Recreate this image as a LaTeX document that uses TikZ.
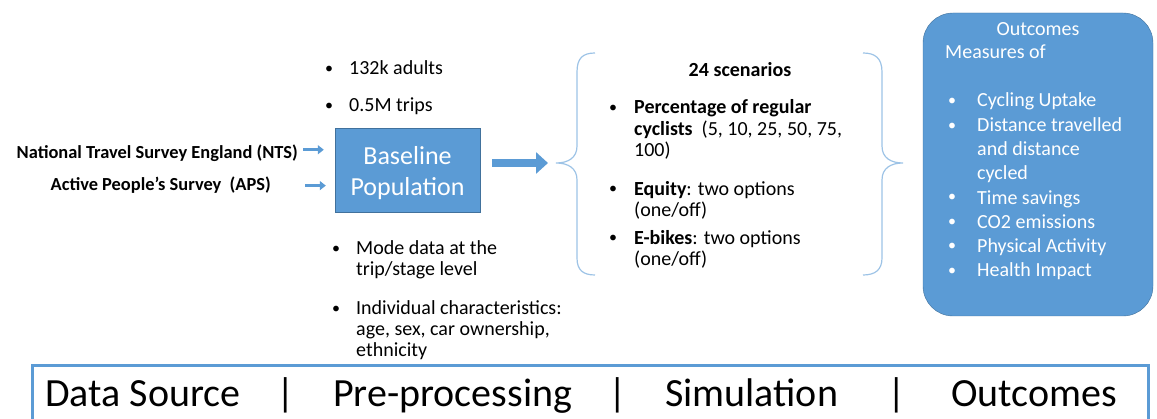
\documentclass[tikz,border=0pt]{standalone}
\usepackage{fontspec}
\setmainfont{Carlito}
\usetikzlibrary{arrows.meta}
\definecolor{boxblue}{RGB}{91,155,213}
\definecolor{edgeblue}{RGB}{65,113,156}
\definecolor{bracecol}{RGB}{157,195,230}

\begin{document}
\begin{tikzpicture}[x=1pt,y=-1pt,
  every node/.style={inner sep=0pt},
  src/.style={anchor=base east, font=\fontsize{18.4}{21}\selectfont\bfseries},
  bul/.style={anchor=base west, yshift=1.5pt, font=\fontsize{16}{21}\selectfont},
  % multi-line texts are placed by the baseline of their last line
  bodytext/.style={anchor=base west, align=left, font=\fontsize{20}{21}\selectfont},
  scentext/.style={bodytext, font=\fontsize{20}{21.5}\selectfont},
  whitetext/.style={bodytext, text=white, font=\fontsize{20}{24.3}\selectfont},
  basebox/.style={draw=edgeblue, fill=boxblue, minimum width=145, minimum height=84},
  outbox/.style={draw=edgeblue, fill=boxblue, rounded corners=30pt,
    minimum width=230, minimum height=303},
  thinarrow/.style={boxblue, line width=3.5pt, -{Triangle[length=6pt,width=9pt]}},
  bigarrow/.style={boxblue, line width=8pt, -{Triangle[length=12pt,width=21pt]}},
  bracelines/.style={bracecol, line width=1.2pt},
  barfont/.style={font=\fontsize{40}{44}\selectfont}
]
\useasboundingbox (0,0) rectangle (1157,419);

% Data sources
\node[src] (nts) at (298,159) {National Travel Survey England (NTS)};
\node[src] (aps) at (271,191) {Active People’s Survey\ \ (APS)};

% Baseline population
\node[basebox] (base) at (407.5,170) {};
\node[text=white, align=center, font=\fontsize{26}{31}\selectfont] (basetxt) at ([yshift=-3pt]base.center) {Baseline\\Population};

\draw[thinarrow, transform canvas={yshift=4pt}, shorten <=5pt, shorten >=11pt] (nts.east) -- (nts.east -| base.west); % NTS in
\draw[thinarrow, shorten <=34pt, shorten >=9pt] (aps.east) -- (aps.east -| base.west); % APS in

% Bullets above and below the box
\node[bul] (b1) at (325,75) {•};
\node[bodytext] (adults) at (349,75) {132k adults};
\node[bul] (b2) at (325,112) {•};
\node[bodytext] (trips) at (349,112) {0.5M trips};

\node[bul] (b3) at (332,255) {•};
\node[bodytext] (mode) at (356,276) {Mode data at the\\trip/stage level};
\node[bul] (b4) at (332,315) {•};
\node[bodytext] (indiv) at (356,357) {Individual characteristics:\\age, sex, car ownership,\\ethnicity};

% Braces round the scenarios
\coordinate (ltip) at (556,163);
\coordinate (rtip) at (903,163);
\draw[bracelines] (595,53) .. controls (583,53) and (577,58) .. (577,72) -- (577,146)
  .. controls (577,158) and (568,163) .. (ltip)
  .. controls (568,163) and (577,168) .. (577,180) -- (577,258)
  .. controls (577,270) and (583,275) .. (595,275);
\draw[bracelines] (863,53) .. controls (875,53) and (882,58) .. (882,72) -- (882,146)
  .. controls (882,158) and (891,163) .. (rtip)
  .. controls (891,163) and (882,168) .. (882,180) -- (882,258)
  .. controls (882,270) and (875,275) .. (863,275);

\draw[bigarrow, shorten <=12pt, shorten >=8pt] (base.east |- ltip) -- (ltip);

% Scenarios
\node[anchor=base, font=\fontsize{20}{21}\selectfont\bfseries] (scen) at (740,77) {24 scenarios};
\node[bul] (b5) at (609,114) {•};
\node[scentext] (perc) at (634,157) {\textbf{Percentage of regular}\\\textbf{cyclists}\ \ (5, 10, 25, 50, 75,\\100)};
\node[bul] (b6) at (609,195) {•};
\node[scentext] (equity) at (634,217) {\textbf{Equity}: two options\\(one/off)};
\node[bul] (b7) at (609,244) {•};
\node[scentext] (ebike) at (634,266) {\textbf{E-bikes}: two options\\(one/off)};

% Outcomes
\node[outbox] (outc) at (1038,164.5) {};
\node[anchor=base, text=white, font=\fontsize{20}{21}\selectfont] (outtitle) at (1038,36) {Outcomes};
\node[whitetext] (measures) at (945,59) {Measures of};
\foreach \yy/\nm in {107/up,132/dist,203/time,228/co2,252/pa,277/hi}
  \node[bul, text=white] (o\nm) at (948,\yy) {•};
\node[whitetext] (outlist) at (977,277) {Cycling Uptake\\Distance travelled\\and distance\\cycled\\Time savings\\CO2 emissions\\Physical Activity\\Health Impact};

% Stage bar
\draw[boxblue, line width=3pt] (32,421) -- (32,366) -- (1148,366) -- (1148,421);
\node[barfont, anchor=base west] (sdata) at (45,407) {Data Source};
\node[barfont, anchor=base] (sep1) at (286,407) {|};
\node[barfont, anchor=base west] (spre) at (333,407) {Pre-processing};
\node[barfont, anchor=base] (sep2) at (618,407) {|};
\node[barfont, anchor=base west] (ssim) at (665,407) {Simulation};
\node[barfont, anchor=base] (sep3) at (897,407) {|};
\node[barfont, anchor=base west] (sout) at (951,407) {Outcomes};
\end{tikzpicture}
\end{document}
